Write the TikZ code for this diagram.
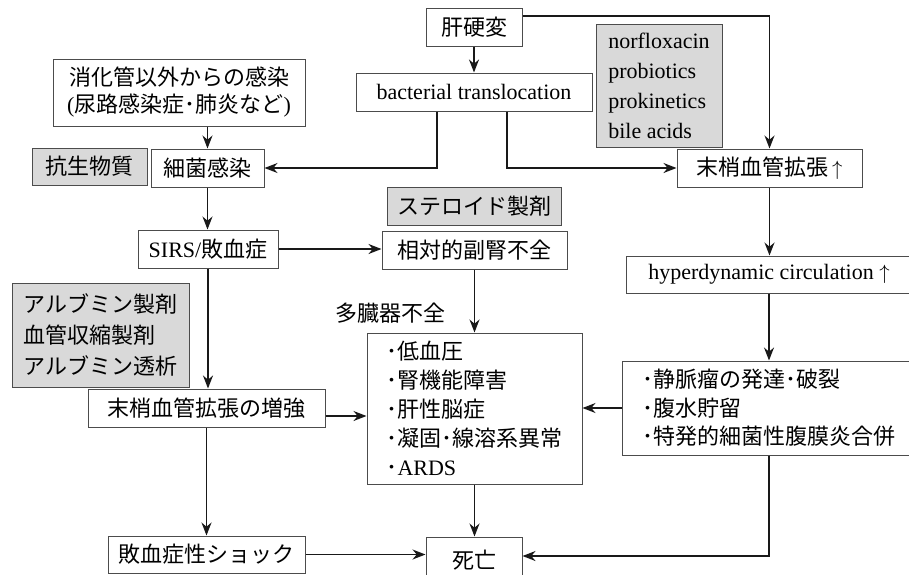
\documentclass[tikz,border=0pt]{standalone}
\usepackage{fontspec}
\setmainfont{Liberation Serif}
\newfontfamily\jp{Noto Sans CJK JP}
\usetikzlibrary{arrows.meta}
\newcommand{\J}[1]{{\jp #1}}
\begin{document}
\begin{tikzpicture}[x=1pt,y=-1pt,
  box/.style={draw=black!70, line width=1pt, inner sep=0pt, align=center,
    font=\fontsize{22}{29}\selectfont},
  gbox/.style={box, fill=black!15},
  plain/.style={inner sep=0pt, font=\fontsize{22}{29}\selectfont},
  arr/.style={-{Stealth[length=13pt,width=10pt]}, line width=1.5pt, black!90}]
\clip (0,0) rectangle (909,574);
\node[box, minimum width=96pt, minimum height=38pt] (cirr) at (474,27) {\J{肝硬変}};
\node[box, minimum width=252pt, minimum height=67pt, font=\fontsize{22}{27}\selectfont] (extra) at (179,92.5) {\J{消化管以外からの感染}\\(\J{尿路感染症･肺炎など})};
\node[box, minimum width=236pt, minimum height=38pt] (bt) at (474,92) {bacterial translocation};
\node[gbox, minimum width=115pt, minimum height=37pt] (abx) at (89.5,166.5) {\J{抗生物質}};
\node[box, minimum width=113pt, minimum height=38pt] (inf) at (207.5,168) {\J{細菌感染}};
\node[gbox, minimum width=126pt, minimum height=123pt, align=left, font=\fontsize{22}{30}\selectfont] (norf) at (659,85.5) {norfloxacin\\probiotics\\prokinetics\\bile acids};
\node[box, minimum width=185pt, minimum height=38pt] (vaso) at (769.5,168) {\J{末梢血管拡張}\,$\uparrow$};
\node[gbox, minimum width=174pt, minimum height=38pt] (ster) at (474,206) {\J{ステロイド製剤}};
\node[box, minimum width=140pt, minimum height=38pt] (sirs) at (208,249) {SIRS/\J{敗血症}};
\node[box, minimum width=185pt, minimum height=38pt] (adr) at (474.5,250) {\J{相対的副腎不全}};
\node[box, minimum width=286pt, minimum height=37pt] (hyper) at (769,274.5) {hyperdynamic circulation $\uparrow$};
\node[gbox, minimum width=177pt, minimum height=104pt, align=left, font=\fontsize{22}{31}\selectfont] (alb) at (100.5,335) {\J{アルブミン製剤}\\\J{血管収縮製剤}\\\J{アルブミン透析}};
\node[box, minimum width=237pt, minimum height=38pt] (enh) at (206.5,408) {\J{末梢血管拡張の増強}};
\node[plain] (moflabel) at (390,313) {\J{多臓器不全}};
\node[box, minimum width=215pt, minimum height=151pt, align=left, font=\fontsize{22}{29}\selectfont] (mof) at (474.5,408.5) {\J{･低血圧}\\\J{･腎機能障害}\\\J{･肝性脳症}\\\J{･凝固･線溶系異常}\\\J{･}ARDS};
\node[box, minimum width=294pt, minimum height=94pt, align=left, font=\fontsize{22}{28.5}\selectfont] (var) at (769,408) {\J{･静脈瘤の発達･破裂}\\\J{･腹水貯留}\\\J{･特発的細菌性腹膜炎合併}};
\node[box, minimum width=197pt, minimum height=37pt] (shock) at (206.5,554.5) {\J{敗血症性ショック}};
\node[box, minimum width=96pt, minimum height=46pt] (death) at (474,560) {\J{死亡}};
\draw[arr] (inf.north |- extra.south) -- (inf.north);
\draw[arr] (cirr.south) -- (cirr.south |- bt.north);
\draw[arr] ([yshift=11pt]cirr.east) -| (vaso.north);
\draw[arr] ([xshift=-37pt]bt.south) |- (inf.east);
\draw[arr] ([xshift=33pt]bt.south) |- (vaso.west);
\draw[arr] (inf.south) -- (inf.south |- sirs.north);
\draw[arr] (sirs.east) -- (sirs.east -| adr.west);
\draw[arr] (vaso.south) -- (vaso.south |- hyper.north);
\draw[arr] (sirs.south) -- (sirs.south |- enh.north);
\draw[arr] (adr.south) -- (adr.south |- mof.north);
\draw[arr] (hyper.south) -- (hyper.south |- var.north);
\draw[arr] ([yshift=-8pt]enh.east) -- ([yshift=-8pt]enh.east -| mof.west);
\draw[arr] (var.west) -- (var.west -| mof.east);
\draw[arr] (enh.south) -- (enh.south |- shock.north);
\draw[arr] (mof.south) -- (mof.south |- death.north);
\draw[arr] (shock.east) -- (shock.east -| death.west);
\draw[arr] (var.south) |- ([yshift=4pt]death.east);
\end{tikzpicture}
\end{document}
